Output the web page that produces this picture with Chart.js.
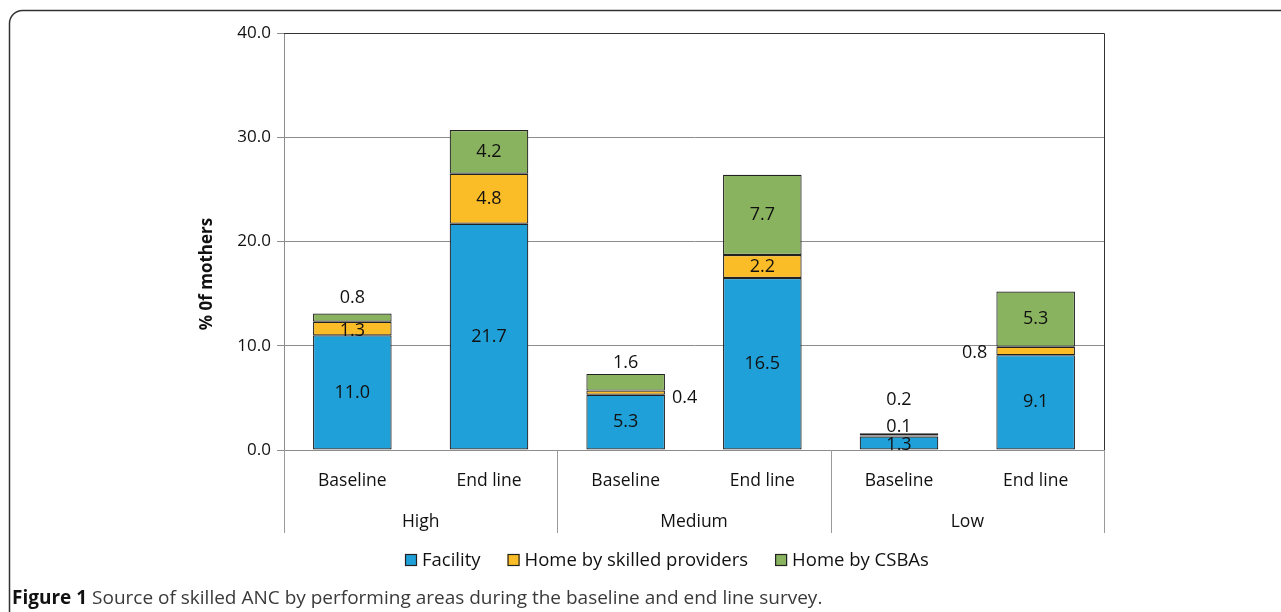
<!DOCTYPE html>
<html>
<head>
<meta charset="UTF-8">
<title>Source of skilled ANC</title>
<script src="https://cdn.jsdelivr.net/npm/chart.js@4.4.1/dist/chart.umd.min.js"></script>
<style>
  html, body { margin: 0; padding: 0; background: #fff; }
  #wrap { width: 1281px; height: 612px; position: relative; }
</style>
</head>
<body>
<div id="wrap"><canvas id="myChart" width="1281" height="612"></canvas></div>

<script>
// data
const categories = ['Baseline', 'End line', 'Baseline', 'End line', 'Baseline', 'End line'];
const groups = ['High', 'Medium', 'Low'];
const facility = [11.0, 21.7, 5.3, 16.5, 1.3, 9.1];
const homeSkilled = [1.3, 4.8, 0.4, 2.2, 0.1, 0.8];
const homeCSBA = [0.8, 4.2, 1.6, 7.7, 0.2, 5.3];
const yTicks = [0, 10, 20, 30, 40];

const seriesNames = ['Facility', 'Home by skilled providers', 'Home by CSBAs'];
const seriesColors = ['#1fa0d8', '#fbbd27', '#8ab35f'];

// where the value labels sit, relative to the segment centre [dx, dy]
const labelShift = [
  [[0, 0], [0, 0], [0, 0], [0, 0], [0, 2], [0, 0]],
  [[0, 2], [0, 0], [59, 5], [0, 0], [0, -9], [-61, 2]],
  [[0, -20], [0, 0], [0, -19], [0, 0], [0, -34], [0, 0]]
];

const FONT = '"Open Sans", "DejaVu Sans", sans-serif';
const GRID = '#8c8c8c';

const extras = {
  id: 'extras',
  afterDatasetsDraw(chart) {
    const ctx = chart.ctx;
    const a = chart.chartArea;
    ctx.save();
    // plot frame top / right
    ctx.strokeStyle = '#333';
    ctx.lineWidth = 1;
    ctx.beginPath();
    ctx.moveTo(a.left, a.top + 0.5);
    ctx.lineTo(a.right + 0.5, a.top + 0.5);
    ctx.lineTo(a.right + 0.5, a.bottom);
    ctx.stroke();

    // value labels
    ctx.font = '18px ' + FONT;
    ctx.fillStyle = '#111';
    ctx.textAlign = 'center';
    ctx.textBaseline = 'middle';
    chart.data.datasets.forEach((ds, i) => {
      const meta = chart.getDatasetMeta(i);
      meta.data.forEach((bar, j) => {
        const s = labelShift[i][j];
        const cy = (bar.y + bar.base) / 2;
        ctx.fillText(ds.data[j].toFixed(1), bar.x + s[0], cy + s[1]);
      });
    });
    ctx.restore();
  },
  afterDraw(chart) {
    const ctx = chart.ctx;
    const a = chart.chartArea;
    ctx.save();
    // group separators below the axis
    ctx.strokeStyle = '#9a9a9a';
    ctx.lineWidth = 1;
    const w = (a.right - a.left) / groups.length;
    for (let k = 0; k <= groups.length; k++) {
      const x = Math.round(a.left + k * w) + 0.5;
      ctx.beginPath();
      ctx.moveTo(x, a.bottom);
      ctx.lineTo(x, 533);
      ctx.stroke();
    }

    // y axis title
    ctx.save();
    ctx.translate(207, 274);
    ctx.rotate(-Math.PI / 2);
    ctx.font = 'bold 17px ' + FONT;
    ctx.fillStyle = '#111';
    ctx.textAlign = 'center';
    ctx.textBaseline = 'middle';
    ctx.fillText('% 0f mothers', 0, 0);
    ctx.restore();

    // legend
    ctx.font = '18.5px ' + FONT;
    ctx.textBaseline = 'middle';
    ctx.textAlign = 'left';
    let x = 405;
    const ly = 561;
    seriesNames.forEach((name, i) => {
      ctx.fillStyle = seriesColors[i];
      ctx.fillRect(x, ly - 7, 12, 12);
      ctx.strokeStyle = '#222';
      ctx.lineWidth = 1.2;
      ctx.strokeRect(x + 0.5, ly - 6.5, 11, 11);
      ctx.fillStyle = '#111';
      ctx.fillText(name, x + 17, ly);
      x += 17 + ctx.measureText(name).width + 27;
    });

    // caption
    ctx.font = 'bold 19px ' + FONT;
    ctx.fillStyle = '#111';
    ctx.fillText('Figure 1', 12, 599);
    const fw = ctx.measureText('Figure 1 ').width;
    ctx.font = '19px ' + FONT;
    ctx.fillStyle = '#3a3a3a';
    ctx.fillText('Source of skilled ANC by performing areas during the baseline and end line survey.', 12 + fw, 599);

    // outer frame
    ctx.strokeStyle = '#333';
    ctx.lineWidth = 1.5;
    ctx.beginPath();
    ctx.moveTo(9.5, 640);
    ctx.lineTo(9.5, 24);
    ctx.arcTo(9.5, 10.5, 24, 10.5, 13);
    ctx.lineTo(1300, 10.5);
    ctx.stroke();
    ctx.restore();
  }
};

new Chart('myChart', {
  type: 'bar',
  data: {
    labels: categories,
    datasets: [
      { label: seriesNames[0], data: facility },
      { label: seriesNames[1], data: homeSkilled },
      { label: seriesNames[2], data: homeCSBA }
    ].map((d, i) => Object.assign(d, {
      backgroundColor: seriesColors[i],
      borderColor: '#222',
      borderWidth: 1.2,
      borderSkipped: false,
      categoryPercentage: 1,
      barPercentage: 0.575
    }))
  },
  options: {
    responsive: false,
    animation: false,
    layout: { padding: { left: 0, right: 177, top: 33, bottom: 70 } },
    plugins: { legend: { display: false }, tooltip: { enabled: false } },
    scales: {
      x: {
        stacked: true,
        weight: 0,
        grid: { display: false, drawTicks: false },
        border: { display: true, color: GRID, width: 1 },
        ticks: { font: { family: FONT, size: 17.5 }, color: '#111', padding: 21, maxRotation: 0 },
        afterFit: s => { s.height = 50; }
      },
      group: {
        type: 'category',
        position: 'bottom',
        labels: groups,
        offset: true,
        weight: 1,
        grid: { display: false, drawTicks: false },
        border: { display: false },
        ticks: { font: { family: FONT, size: 17.5 }, color: '#111', padding: 12, maxRotation: 0 },
        afterFit: s => { s.height = 42; }
      },
      y: {
        stacked: true,
        min: 0,
        max: 40,
        afterBuildTicks: s => { s.ticks = yTicks.map(v => ({ value: v })); },
        grid: {
          color: c => (c.tick && c.tick.value === 40 ? '#333' : GRID),
          tickColor: GRID,
          tickLength: 7
        },
        border: { display: true, color: GRID, width: 1 },
        ticks: {
          font: { family: FONT, size: 17 },
          color: '#111',
          padding: 6,
          callback: v => Number(v).toFixed(1)
        },
        afterFit: s => { s.width = 284; }
      }
    }
  },
  plugins: [extras]
});
</script>
</body>
</html>
